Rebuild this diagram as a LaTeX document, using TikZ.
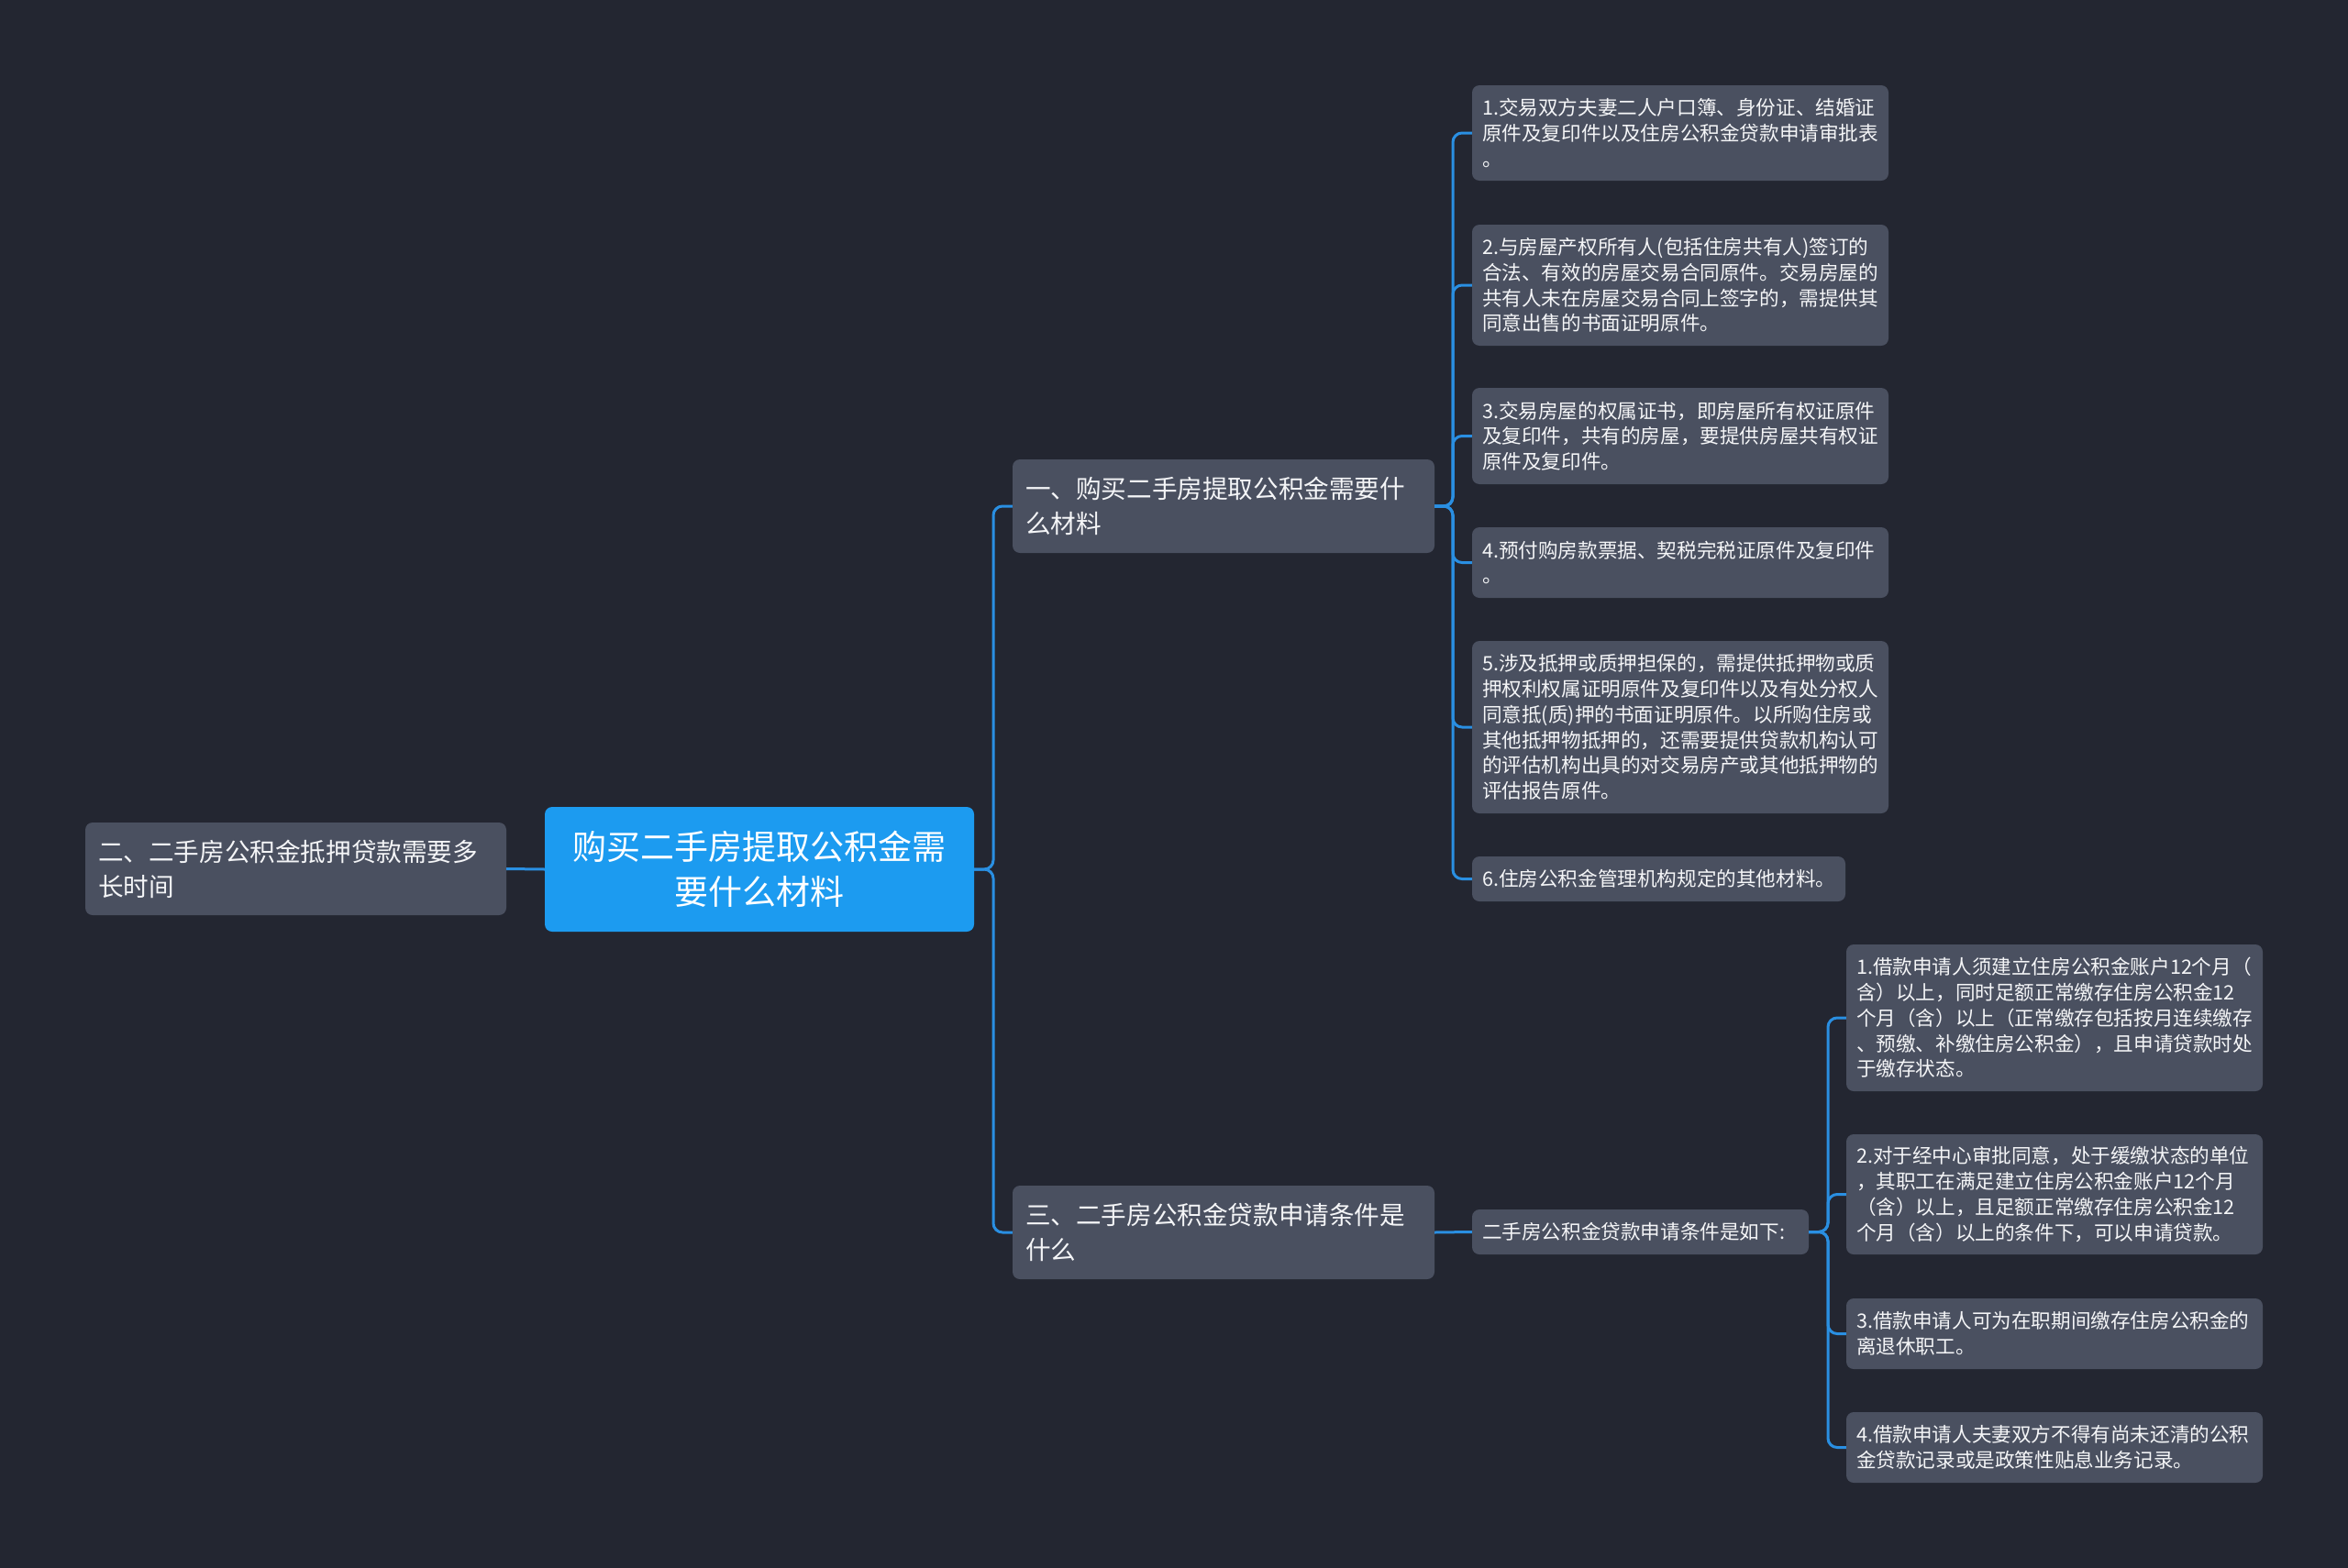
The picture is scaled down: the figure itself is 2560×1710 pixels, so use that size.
\documentclass[tikz,border=0pt]{standalone}
\usepackage{fontspec}
\setmainfont{Noto Sans CJK SC}
\definecolor{bgc}{HTML}{232631}
\definecolor{boxc}{HTML}{4A5060}
\definecolor{rootc}{HTML}{1C9BF0}
\definecolor{linec}{HTML}{2A8FE2}
\definecolor{txtc}{HTML}{F4F5F7}
\newcommand\mkbox[8]{%
  \pgfmathsetmacro\bw{#4-#2}\pgfmathsetmacro\bh{#5-#3}%
  \pgfmathsetmacro\bx{(#2+#4)/2}\pgfmathsetmacro\by{(#3+#5)/2}%
  \pgfmathsetmacro\tw{#4-#2-2*#7}%
  \node[#6, inner xsep=#7pt, inner ysep=0pt, text width=\tw pt,
        minimum width=\bw pt, minimum height=\bh pt] (#1) at (\bx,\by) {#8};}
\begin{document}
\begin{tikzpicture}[x=1pt,y=-1pt,
  leaf/.style={fill=boxc, rounded corners=8pt, text=txtc, align=left,
    font=\fontsize{21.6}{27.8}\selectfont},
  branch/.style={fill=boxc, rounded corners=8pt, text=txtc, align=left,
    font=\fontsize{27.6}{38}\selectfont},
  rootbox/.style={fill=rootc, rounded corners=8pt, text=white, align=center,
    font=\fontsize{37}{49}\selectfont},
  conn/.style={draw=linec, line width=3pt, rounded corners=10pt}]
\useasboundingbox (0,0) rectangle (2560,1710);
\fill[bgc] (0,0) rectangle (2560,1710);

\mkbox{c}{594}{880}{1062}{1016}{rootbox}{20}{购买二手房提取公积金需\\要什么材料}
\mkbox{lb}{93}{897}{552}{998}{branch}{14}{二、二手房公积金抵押贷款需要多\\长时间}
\mkbox{b1}{1104}{501}{1564}{603}{branch}{14}{一、购买二手房提取公积金需要什\\么材料}
\mkbox{b3}{1104}{1293}{1564}{1395}{branch}{14}{三、二手房公积金贷款申请条件是\\什么}

\mkbox{l1}{1605}{93}{2059}{197}{leaf}{11}{1.交易双方夫妻二人户口簿、身份证、结婚证\\原件及复印件以及住房公积金贷款申请审批表\\。}
\mkbox{l2}{1605}{245}{2059}{377}{leaf}{11}{2.与房屋产权所有人(包括住房共有人)签订的\\合法、有效的房屋交易合同原件。交易房屋的\\共有人未在房屋交易合同上签字的，需提供其\\同意出售的书面证明原件。}
\mkbox{l3}{1605}{423}{2059}{528}{leaf}{11}{3.交易房屋的权属证书，即房屋所有权证原件\\及复印件，共有的房屋，要提供房屋共有权证\\原件及复印件。}
\mkbox{l4}{1605}{575}{2059}{652}{leaf}{11}{4.预付购房款票据、契税完税证原件及复印件\\。}
\mkbox{l5}{1605}{699}{2059}{887}{leaf}{11}{5.涉及抵押或质押担保的，需提供抵押物或质\\押权利权属证明原件及复印件以及有处分权人\\同意抵(质)押的书面证明原件。以所购住房或\\其他抵押物抵押的，还需要提供贷款机构认可\\的评估机构出具的对交易房产或其他抵押物的\\评估报告原件。}
\mkbox{l6}{1605}{934}{2012}{983}{leaf}{11}{6.住房公积金管理机构规定的其他材料。}

\mkbox{m}{1605}{1319}{1972}{1368}{leaf}{11}{二手房公积金贷款申请条件是如下:}
\mkbox{r1}{2013}{1030}{2467}{1190}{leaf}{11}{1.借款申请人须建立住房公积金账户12个月（\\含）以上，同时足额正常缴存住房公积金12\\个月（含）以上（正常缴存包括按月连续缴存\\、预缴、补缴住房公积金），且申请贷款时处\\于缴存状态。}
\mkbox{r2}{2013}{1237}{2467}{1368}{leaf}{11}{2.对于经中心审批同意，处于缓缴状态的单位\\，其职工在满足建立住房公积金账户12个月\\（含）以上，且足额正常缴存住房公积金12\\个月（含）以上的条件下，可以申请贷款。}
\mkbox{r3}{2013}{1416}{2467}{1493}{leaf}{11}{3.借款申请人可为在职期间缴存住房公积金的\\离退休职工。}
\mkbox{r4}{2013}{1540}{2467}{1617}{leaf}{11}{4.借款申请人夫妻双方不得有尚未还清的公积\\金贷款记录或是政策性贴息业务记录。}

\coordinate (t0) at (1083,0);
\coordinate (t1) at (1584,0);
\coordinate (t2) at (1993,0);

\draw[conn] (c.west) -- (lb.east);
\foreach \k in {b1,b3}
  \draw[conn] (c.east) -- (c.east -| t0) -- (t0 |- \k.west) -- (\k.west);
\foreach \k in {l1,l2,l3,l4,l5,l6}
  \draw[conn] (b1.east) -- (b1.east -| t1) -- (t1 |- \k.west) -- (\k.west);
\draw[conn] (b3.east) -- (m.west);
\foreach \k in {r1,r2,r3,r4}
  \draw[conn] (m.east) -- (m.east -| t2) -- (t2 |- \k.west) -- (\k.west);
\end{tikzpicture}
\end{document}
